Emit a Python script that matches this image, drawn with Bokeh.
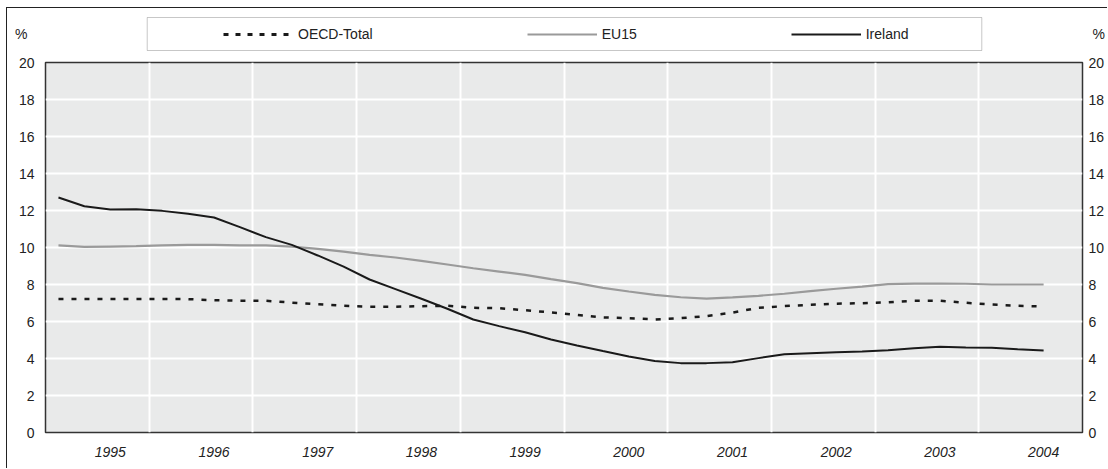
from bokeh.plotting import figure
from bokeh.layouts import column
from bokeh.models import (Range1d, LinearAxis, FixedTicker, Legend, LegendItem,
                          BoxAnnotation)
from bokeh.embed import file_html
from bokeh.resources import INLINE

# ---------------- data (quarterly, 1995-Q1 .. 2004-Q3) ----------------
years = ["1995", "1996", "1997", "1998", "1999", "2000", "2001", "2002", "2003", "2004"]
quarters = ["Q1", "Q2", "Q3", "Q4"]
periods = [f"{y}-{q}" for y in years for q in quarters][:39]

oecd = [7.21, 7.21, 7.21, 7.21, 7.21, 7.21, 7.15, 7.12, 7.12, 7.02,
        6.93, 6.85, 6.80, 6.80, 6.83, 6.85, 6.74, 6.72, 6.61, 6.49,
        6.36, 6.22, 6.18, 6.11, 6.18, 6.29, 6.48, 6.74, 6.83, 6.90,
        6.96, 6.99, 7.04, 7.12, 7.12, 7.01, 6.92, 6.85, 6.81]
eu15 = [10.11, 10.03, 10.05, 10.07, 10.12, 10.14, 10.14, 10.11, 10.11, 10.05,
        9.93, 9.78, 9.60, 9.46, 9.28, 9.08, 8.88, 8.70, 8.52, 8.29,
        8.07, 7.82, 7.62, 7.44, 7.31, 7.24, 7.30, 7.39, 7.50, 7.64,
        7.77, 7.89, 8.02, 8.05, 8.05, 8.04, 8.00, 8.00, 8.00]
ireland = [12.70, 12.23, 12.05, 12.07, 11.98, 11.82, 11.62, 11.10, 10.56, 10.14,
           9.57, 8.97, 8.27, 7.75, 7.23, 6.69, 6.11, 5.75, 5.42, 5.03,
           4.70, 4.40, 4.11, 3.87, 3.75, 3.75, 3.80, 4.02, 4.23, 4.29,
           4.34, 4.38, 4.45, 4.56, 4.63, 4.60, 4.58, 4.50, 4.43]
series_names = ["OECD-Total", "EU15", "Ireland"]
unit_label = "%"
y_ticks = list(range(0, 21, 2))

# quarter index -> x position (centre of each quarter slot)
nq = len(quarters)
x = [i + 0.5 for i in range(len(periods))]
year_grid = [nq * k for k in range(1, len(years))]
year_label_pos = [nq * k + 2.5 for k in range(len(years))]   # under Q3

FONT = "Liberation Sans"
TXT = "#222222"
BLACK = "#1a1a1a"
GREY = "#9a9a9a"
W = 1100
nan = float("nan")


def style_axis(ax, standoff):
    ax.major_label_text_font = FONT
    ax.major_label_text_font_size = "14px"
    ax.major_label_text_color = TXT
    ax.major_label_standoff = standoff
    ax.axis_line_color = None
    ax.major_tick_line_color = None
    ax.minor_tick_line_color = None
    ax.major_tick_out = 0
    ax.major_tick_in = 0
    ax.minor_tick_out = 0
    ax.minor_tick_in = 0


# ---------------- header strip (legend, unit labels) ----------------
# screen-like coordinates: x = pixels across the page, y = pixels down the page
hdr = figure(width=W, height=44, output_backend="svg", toolbar_location=None,
             x_range=Range1d(45, 1085), y_range=Range1d(52, 8),
             x_axis_type=None, y_axis_type=None, min_border=0,
             outline_line_color=None, background_fill_color="white",
             border_fill_color="white")
hdr.grid.visible = False
unit_pos = 33
for side, so in (("left", 18), ("right", 10)):
    ax = LinearAxis(ticker=FixedTicker(ticks=[unit_pos]),
                    major_label_overrides={unit_pos: unit_label})
    style_axis(ax, so)
    hdr.add_layout(ax, side)

# legend proxies (same styling as the series)
h_oecd = hdr.line(x[:2], [nan, nan], line_color=BLACK, line_width=3, line_dash="5 7")
h_eu = hdr.line(x[:2], [nan, nan], line_color=GREY, line_width=2.2)
h_irl = hdr.line(x[:2], [nan, nan], line_color=BLACK, line_width=2)
legend = Legend(items=[LegendItem(label=n, renderers=[r]) for n, r in
                       zip(series_names, (h_oecd, h_eu, h_irl))],
                orientation="horizontal", location=(178, 8.5),
                padding=0, margin=0, spacing=154,
                glyph_width=70, glyph_height=20, label_standoff=5,
                label_text_font=FONT, label_text_font_size="14px",
                label_text_color=TXT,
                border_line_alpha=0, background_fill_alpha=0)
hdr.add_layout(legend)
hdr.add_layout(BoxAnnotation(left=147, right=984, top=17, bottom=50,
                             fill_color=None, line_color="#444444", line_width=1))

# ---------------- main chart ----------------
p = figure(width=W, height=416, output_backend="svg", toolbar_location=None,
           x_range=Range1d(0, nq * len(years)), y_range=Range1d(0, 20),
           min_border_left=38, min_border_right=22, min_border_top=10,
           min_border_bottom=36,
           background_fill_color="#e9eaea", border_fill_color="white",
           outline_line_color="#333333", outline_line_width=1.5)

p.xgrid.ticker = FixedTicker(ticks=year_grid)
p.ygrid.ticker = FixedTicker(ticks=y_ticks[1:-1])
for g in (p.xgrid, p.ygrid):
    g.grid_line_color = "white"
    g.grid_line_width = 2

xa = p.xaxis[0]
xa.ticker = FixedTicker(ticks=year_label_pos)
xa.major_label_overrides = {pos: yr for pos, yr in zip(year_label_pos, years)}
xa.major_label_text_font_style = "italic"
style_axis(xa, 14)

ya = p.yaxis[0]
ra = LinearAxis()
p.add_layout(ra, "right")
for ax, so in ((ya, 11), (ra, 6)):
    ax.ticker = FixedTicker(ticks=y_ticks)
    style_axis(ax, so)

p.line(x, oecd, line_color=BLACK, line_width=2.5, line_dash="5 8")
p.line(x, eu15, line_color=GREY, line_width=2.2)
p.line(x, ireland, line_color=BLACK, line_width=2)

layout = column(hdr, p, spacing=0,
                styles={"margin-left": "6px", "margin-top": "7px",
                        "border-left": "1px solid #222222",
                        "border-top": "1px solid #222222"})

open("out.html", "w").write(file_html(layout, INLINE))
